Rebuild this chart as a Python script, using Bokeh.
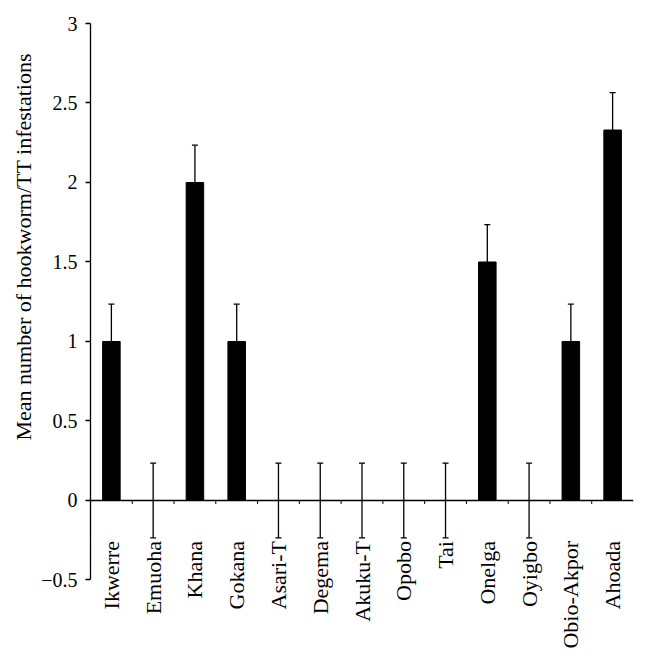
from math import pi
from bokeh.plotting import figure
from bokeh.models import (ColumnDataSource, FactorRange, Range1d, FixedTicker, Span,
                          Whisker, TeeHead, Title)
from bokeh.transform import dodge
from bokeh.core.properties import value
from bokeh.embed import file_html
from bokeh.resources import INLINE

# ---- data ----
categories = ["Ikwerre", "Emuoha", "Khana", "Gokana", "Asari-T", "Degema", "Akuku-T",
              "Opobo", "Tai", "Onelga", "Oyigbo", "Obio-Akpor", "Ahoada"]
mean_values = [1.0, 0.0, 2.0, 1.0, 0.0, 0.0, 0.0, 0.0, 0.0, 1.5, 0.0, 1.0, 2.33]
error_values = [0.235, 0.235, 0.235, 0.235, 0.235, 0.235, 0.235, 0.235, 0.235,
                0.235, 0.235, 0.235, 0.235]
y_ticks = [-0.5, 0, 0.5, 1, 1.5, 2, 2.5, 3]
y_tick_labels = ["\u22120.5", "0", "0.5", "1", "1.5", "2", "2.5", "3"]
y_title = "Mean number of hookworm/TT infestations"

FONT = "Liberation Serif"

src = ColumnDataSource(dict(
    cat=categories,
    mean=mean_values,
    upper=[m + e for m, e in zip(mean_values, error_values)],
    lower=[m - e for m, e in zip(mean_values, error_values)],
    label_y=[-0.255] * len(categories),
    tick_y0=[0.0] * len(categories),
    tick_y1=[-0.022] * len(categories),
))

p = figure(width=647, height=661, output_backend="svg", toolbar_location=None,
           x_range=FactorRange(*categories, range_padding=0),
           y_range=Range1d(-1.0126, 3.0),
           x_axis_location=None, min_border_left=90, min_border_right=14,
           min_border_top=23, min_border_bottom=0)
p.outline_line_color = None
p.grid.visible = False
p.background_fill_color = "white"

# bars
p.vbar(x="cat", top="mean", bottom=0, width=0.42, source=src,
       fill_color="black", line_color="black")

# error bars
w = Whisker(source=src, base="cat", upper="upper", lower="lower",
            line_color="black", line_width=1.3,
            upper_head=TeeHead(size=6, line_color="black", line_width=1.3),
            lower_head=TeeHead(size=6, line_color="black", line_width=1.3))
w.level = "overlay"
p.add_layout(w)

# x axis line at zero
p.add_layout(Span(location=0, dimension="width", line_color="black", line_width=1.3))

# ticks at category boundaries
p.segment(x0=dodge("cat", -0.5, range=p.x_range), x1=dodge("cat", -0.5, range=p.x_range),
          y0="tick_y0", y1="tick_y1", source=src, line_color="black", line_width=1)

# category labels
p.text(x="cat", y="label_y", text="cat", source=src, angle=pi / 2,
       text_align="right", text_baseline="middle",
       text_font=value(FONT), text_font_size="22px", text_color="black")

# y axis
ax = p.yaxis[0]
ax.bounds = (-0.5, 3)
ax.ticker = FixedTicker(ticks=y_ticks)
ax.major_label_overrides = {t: l for t, l in zip(y_ticks, y_tick_labels)}
ax.minor_tick_line_color = None
ax.major_tick_out = 5
ax.major_tick_in = 0
ax.major_label_standoff = 8
ax.axis_line_color = "black"
ax.axis_line_width = 1.3
ax.major_tick_line_color = "black"
ax.major_tick_line_width = 1.3
ax.major_label_text_font = FONT
ax.major_label_text_font_size = "20px"
ax.major_label_text_color = "black"

# y axis title (as a side title so it can sit outside the frame)
p.add_layout(Title(text=y_title, align="left", offset=221, standoff=6,
                   text_font=FONT, text_font_size="22px", text_font_style="normal",
                   text_color="black"), "left")

open("out.html", "w").write(file_html(p, INLINE))
